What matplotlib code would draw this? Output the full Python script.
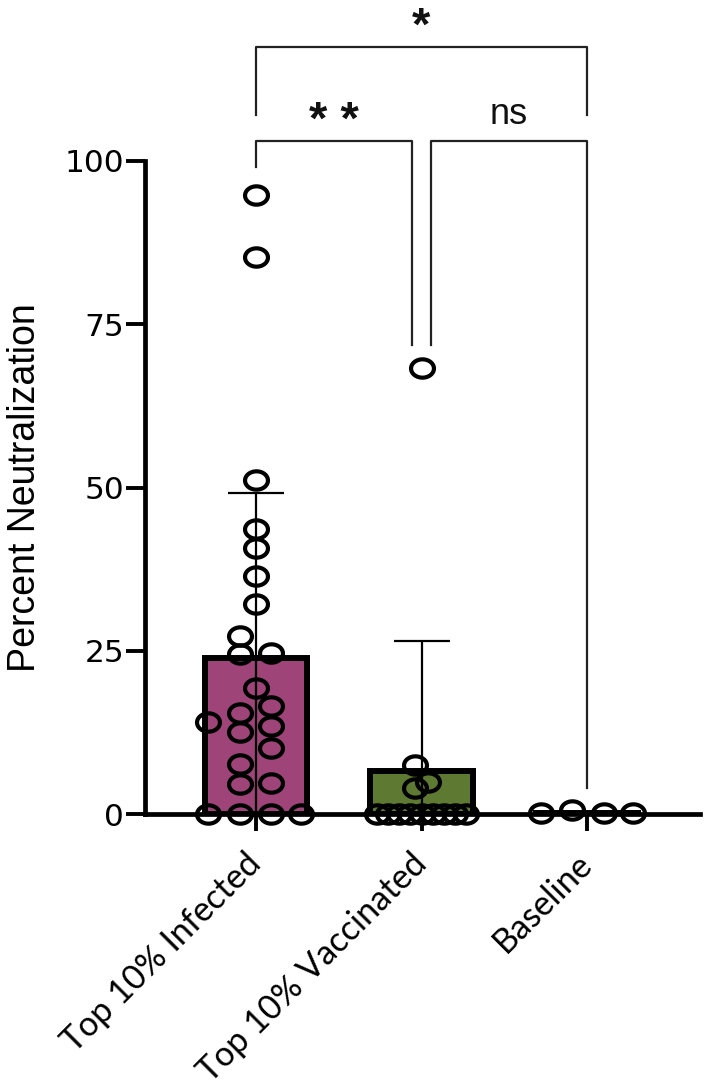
import numpy as np
import matplotlib
matplotlib.use("Agg")
import matplotlib.pyplot as plt
from matplotlib.path import Path

# ---------------- data ----------------
categories = ["Top 10% Infected", "Top 10% Vaccinated", "Baseline"]
bar_means = [23.9, 6.6, 0.2]
bar_sd = [25.2, 19.9, 0.2]
bar_colors = ["#9E4478", "#5E7A32", "#FFFFFF"]

infected_vals = [94.8, 85.3, 51.1, 43.7, 40.8, 36.5, 32.2, 27.2, 24.5, 24.6,
                 19.3, 14.1, 15.4, 12.6, 16.5, 13.5, 10.1, 7.7, 4.6, 4.8,
                 0, 0, 0, 0]
vaccinated_vals = [68.3, 7.5, 4.9, 4.0, 0, 0, 0, 0, 0, 0, 0, 0, 0]
baseline_vals = [0.2, 0.6, 0.1, 0.1]

# swarm layout (horizontal offsets from group centre)
infected_off = [0, 0, 0, 0, 0, 0, 0, -0.095, -0.095, 0.09,
                0, -0.29, -0.095, -0.095, 0.09, 0.09, 0.09, -0.095, -0.095, 0.09,
                -0.29, -0.095, 0.09, 0.27]
vaccinated_off = [0, -0.04, 0.04, -0.04] + list(np.linspace(-0.27, 0.27, 9))
baseline_off = [-0.28, -0.09, 0.1, 0.28]

groups = [infected_vals, vaccinated_vals, baseline_vals]
offsets = [infected_off, vaccinated_off, baseline_off]

# significance brackets: (group a, group b, bar height, left leg end, right leg end, label)
brackets = [
    (0, 2, 117.5, 107.0, 107.0, "*"),
    (0, 0.94, 103.0, 99.1, 71.8, "* *"),
    (1.055, 2, 103.0, 71.8, 4.0, "ns"),
]

# ---------------- figure ----------------
fig = plt.figure(figsize=(7.07, 10.86), dpi=100)
ax = fig.add_axes([145 / 707, 1 - 814 / 1086, 555 / 707, (814 - 161) / 1086])

x = np.arange(len(categories))
ax.bar(x, bar_means, width=0.62, color=bar_colors, edgecolor="black",
       linewidth=4.3, zorder=2)
lower = [min(m, s) for m, s in zip(bar_means, bar_sd)]
ax.errorbar(x[:2], bar_means[:2], yerr=[lower[:2], bar_sd[:2]], fmt="none",
            ecolor="black", elinewidth=1.6, capsize=20, capthick=1.6, zorder=3)

# elliptical hollow marker (source image slightly stretched horizontally)
t = np.linspace(0, 2 * np.pi, 60)
ell = Path(np.column_stack([np.cos(t), 0.8 * np.sin(t)]), closed=True)

for i, (vals, offs) in enumerate(zip(groups, offsets)):
    ax.plot(i + np.array(offs), vals, linestyle="none", marker=ell,
            markersize=16.5, markerfacecolor="none", markeredgecolor="black",
            markeredgewidth=3.0, clip_on=False, zorder=4)

ax.set_xlim(-0.671, 2.683)
ax.set_ylim(0, 100)
ax.set_yticks([0, 25, 50, 75, 100])
ax.set_xticks(x)
ax.set_xticklabels(categories, rotation=45, ha="right", va="center",
                   rotation_mode="anchor", fontsize=24.5, family=["Lato", "DejaVu Sans"])
for lbl in ax.get_yticklabels():
    lbl.set_fontfamily("DejaVu Sans")
    lbl.set_fontsize(22.5)
ax.tick_params(axis="y", length=14, width=2.8, pad=1)
ax.tick_params(axis="x", length=12, width=2.8, pad=20)

for side in ["top", "right"]:
    ax.spines[side].set_visible(False)
for side in ["left", "bottom"]:
    ax.spines[side].set_linewidth(3.4)

ax.set_ylabel("Percent Neutralization", fontsize=27,
              family=["Liberation Sans Narrow", "Liberation Sans"])
ax.yaxis.set_label_coords(-0.184, 0.5)

# brackets
for a, b, h, la, lb, lab in brackets:
    ax.plot([a, a, b, b], [la, h, h, lb], color="#222222", lw=1.6,
            clip_on=False, zorder=1)
    if lab == "ns":
        ax.text((a + b) / 2, h + 1.4, lab, ha="center", va="bottom",
                fontsize=26, family="Liberation Sans", color="#111111")
    else:
        ax.text((a + b) / 2, h - 0.4, lab, ha="center", va="bottom",
                fontsize=34, fontweight="bold", family="Liberation Sans",
                color="#111111")

fig.savefig("out.png", dpi=100)
